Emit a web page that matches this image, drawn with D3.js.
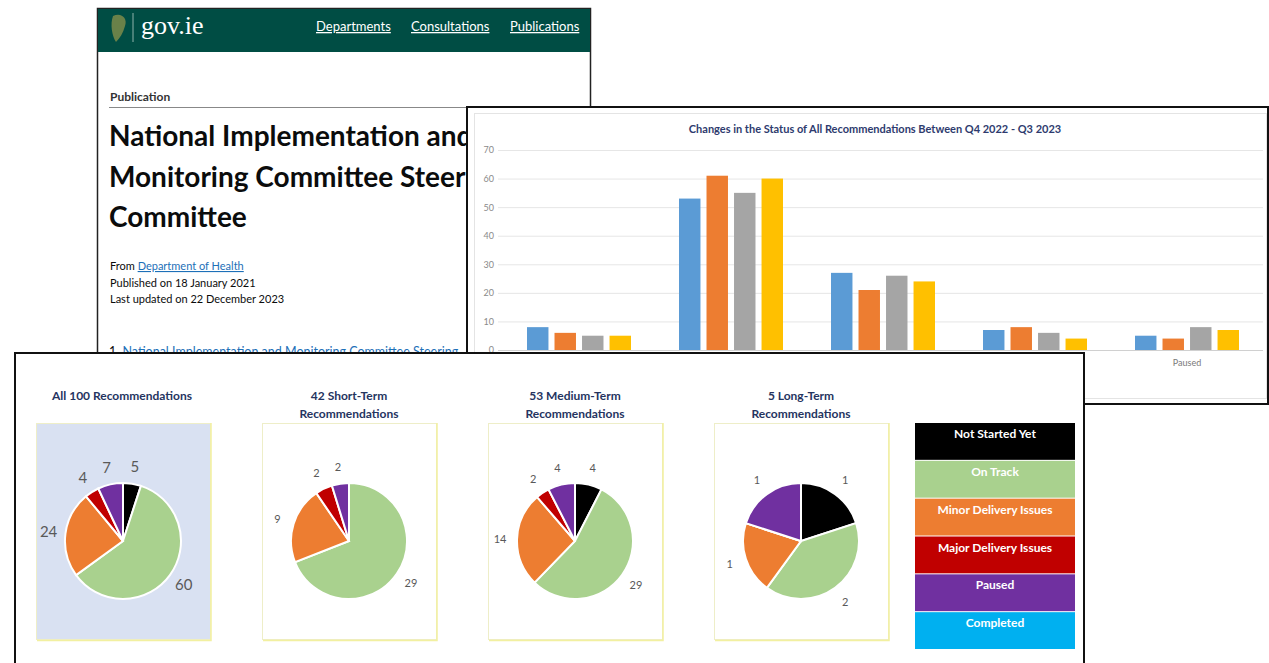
<!DOCTYPE html>
<html>
<head>
<meta charset="utf-8">
<script src="https://cdn.jsdelivr.net/npm/d3@7"></script>
<style>
  body { margin: 0; background: #fff; }
  svg { display: block; font-family: Lato, "Open Sans", sans-serif; }
</style>
</head>
<body>
<svg id="chart" width="1269" height="663"></svg>
<script>
// status categories shared by the bar chart and the pies
var statuses = ['Not Started Yet', 'On Track', 'Minor Delivery Issues', 'Major Delivery Issues', 'Paused'];
var legendLabels = ['Not Started Yet', 'On Track', 'Minor Delivery Issues', 'Major Delivery Issues', 'Paused', 'Completed'];
var statusColors = ['#000000', '#a9d18e', '#ed7d31', '#c00000', '#7030a0', '#00b0f0'];

// bar chart: one value per quarter for each status
var quarters = ['Q4 2022', 'Q1 2023', 'Q2 2023', 'Q3 2023'];
var quarterColors = ['#5b9bd5', '#ed7d31', '#a5a5a5', '#ffc000'];
var q4_2022 = [8, 53, 27, 7, 5];
var q1_2023 = [6, 61, 21, 8, 4];
var q2_2023 = [5, 55, 26, 6, 8];
var q3_2023 = [5, 60, 24, 4, 7];
var yTicks = [0, 10, 20, 30, 40, 50, 60, 70];

// pies: counts in status order
var pieTitles = [['All 100 Recommendations'], ['42 Short-Term', 'Recommendations'], ['53 Medium-Term', 'Recommendations'], ['5 Long-Term', 'Recommendations']];
var allRecs = [5, 60, 24, 4, 7];
var shortTerm = [0, 29, 9, 2, 2];
var mediumTerm = [4, 29, 14, 2, 4];
var longTerm = [1, 2, 1, 0, 1];

var svg = d3.select('#chart');

// clip the back page where the bar chart panel sits on top of it
var clip = svg.append('defs').append('clipPath').attr('id', 'pageClip');
clip.append('rect').attr('x', 0).attr('y', 0).attr('width', 1269).attr('height', 107);
clip.append('rect').attr('x', 0).attr('y', 107).attr('width', 467).attr('height', 246);

// ---------- gov.ie page (back layer) ----------
var page = svg.append('g').attr('clip-path', 'url(#pageClip)');
page.append('rect')
    .attr('x', 97.5).attr('y', 8.5).attr('width', 493).attr('height', 420)
    .attr('fill', '#fff').attr('stroke', '#222').attr('stroke-width', 1.5);
page.append('rect')
    .attr('x', 98).attr('y', 9).attr('width', 492).attr('height', 43)
    .attr('fill', '#004d44');
// harp logo (rough)
page.append('path')
    .attr('d', 'M113,16 C121,12 128,18 125,26 C123,33 120,38 116,42 C112,36 110,24 113,16 Z')
    .attr('fill', '#7d8b4a').attr('opacity', 0.85);
page.append('line')
    .attr('x1', 133).attr('x2', 133).attr('y1', 13).attr('y2', 42)
    .attr('stroke', '#8fb3ab').attr('stroke-width', 1);
page.append('text')
    .attr('x', 141).attr('y', 34)
    .style('font-family', '"Liberation Serif", "DejaVu Serif", serif')
    .style('font-size', '26px').attr('fill', '#fff')
    .text('gov.ie');
var navItems = [['Departments', 316], ['Consultations', 411], ['Publications', 510]];
page.selectAll('text.nav')
    .data(navItems)
    .enter().append('text')
    .attr('class', 'nav')
    .attr('x', function (d) { return d[1]; })
    .attr('y', 31)
    .style('font-size', '13px').style('text-decoration', 'underline')
    .attr('fill', '#fff')
    .text(function (d) { return d[0]; });
page.append('text')
    .attr('x', 110).attr('y', 101)
    .style('font-size', '12px').style('font-weight', 'bold')
    .attr('fill', '#333')
    .text('Publication');
page.append('line')
    .attr('x1', 109).attr('x2', 590).attr('y1', 107.5).attr('y2', 107.5)
    .attr('stroke', '#888');
var titleLines = ['National Implementation and', 'Monitoring Committee Steering', 'Committee'];
page.selectAll('text.ttl')
    .data(titleLines)
    .enter().append('text')
    .attr('class', 'ttl')
    .attr('x', 109)
    .attr('y', function (d, i) { return 146 + i * 40.5; })
    .style('font-size', '28px').style('font-weight', 'bold')
    .attr('fill', '#0b0c0c')
    .text(function (d) { return d; });
var from = page.append('text')
    .attr('x', 110).attr('y', 270)
    .style('font-size', '11px').attr('fill', '#0b0c0c');
from.append('tspan').text('From ');
from.append('tspan').attr('fill', '#1d70b8').style('text-decoration', 'underline').text('Department of Health');
page.append('text')
    .attr('x', 110).attr('y', 287)
    .style('font-size', '11px').attr('fill', '#0b0c0c')
    .text('Published on 18 January 2021');
page.append('text')
    .attr('x', 110).attr('y', 303)
    .style('font-size', '11px').attr('fill', '#0b0c0c')
    .text('Last updated on 22 December 2023');
var item = page.append('text')
    .attr('x', 109).attr('y', 356)
    .style('font-size', '12.5px');
item.append('tspan').attr('fill', '#0b0c0c').text('1. ');
item.append('tspan').attr('fill', '#1d70b8').style('text-decoration', 'underline')
    .text('National Implementation and Monitoring Committee Steering');

// ---------- bar chart (middle layer) ----------
var bars = svg.append('g');
bars.append('rect')
    .attr('x', 467).attr('y', 107).attr('width', 801).attr('height', 297)
    .attr('fill', '#fff').attr('stroke', '#111').attr('stroke-width', 2);
bars.append('rect')
    .attr('x', 474.5).attr('y', 113.5).attr('width', 792).attr('height', 285)
    .attr('fill', 'none').attr('stroke', '#e4e4e4');

var xScale = d3.scaleBand()
    .domain(statuses)
    .range([503, 1263]);
var xInner = d3.scaleBand()
    .domain(quarters)
    .range([24, 128])
    .paddingInner(0.22);
var yScale = d3.scaleLinear()
    .domain([0, 70])
    .range([350, 150]);

bars.append('text')
    .attr('x', 875).attr('y', 133)
    .style('text-anchor', 'middle')
    .style('font-size', '11px').style('font-weight', 'bold')
    .attr('fill', '#2e3b6e')
    .text('Changes in the Status of All Recommendations Between Q4 2022 - Q3 2023');

// gridlines
bars.selectAll('line.grid')
    .data(yTicks)
    .enter().append('line')
    .attr('class', 'grid')
    .attr('x1', 498).attr('x2', 1263)
    .attr('y1', function (d) { return yScale(d) + 0.5; })
    .attr('y2', function (d) { return yScale(d) + 0.5; })
    .attr('stroke', function (d) { return d === 0 ? '#d0d0d0' : '#e6e6e6'; });

// y axis labels
var yAxis = bars.append('g')
    .attr('transform', 'translate(496,0)')
    .call(d3.axisLeft(yScale).tickValues(yTicks).tickSize(0).tickPadding(2));
yAxis.select('.domain').remove();
yAxis.selectAll('text')
    .style('font-family', 'Lato, sans-serif')
    .style('font-size', '9px')
    .attr('fill', '#8a8a8a');

var seriesValues = [q4_2022, q1_2023, q2_2023, q3_2023];
var barData = [];
statuses.forEach(function (s, i) {
    quarters.forEach(function (q, j) {
        barData.push({ status: s, quarter: q, value: seriesValues[j][i], color: quarterColors[j] });
    });
});
bars.selectAll('rect.bar')
    .data(barData)
    .enter().append('rect')
    .attr('class', 'bar')
    .attr('x', function (d) { return xScale(d.status) + xInner(d.quarter); })
    .attr('y', function (d) { return yScale(d.value); })
    .attr('width', xInner.bandwidth())
    .attr('height', function (d) { return yScale(0) - yScale(d.value); })
    .attr('fill', function (d) { return d.color; });

// x axis labels (most are hidden behind the front panel)
var xAxis = bars.append('g')
    .attr('transform', 'translate(0,351)')
    .call(d3.axisBottom(xScale).tickSize(0).tickPadding(9));
xAxis.select('.domain').remove();
xAxis.selectAll('text')
    .style('font-family', 'Lato, sans-serif')
    .style('font-size', '9px')
    .attr('fill', '#7a7a7a');

// ---------- pies (front layer) ----------
var front = svg.append('g');
front.append('rect')
    .attr('x', 15).attr('y', 353).attr('width', 1069).attr('height', 330)
    .attr('fill', '#fff').attr('stroke', '#111').attr('stroke-width', 2);

var pieSets = [allRecs, shortTerm, mediumTerm, longTerm];
var boxX = [36, 262, 488, 714];
var boxW = 174;
var pie = d3.pie().sort(null).value(function (d) { return d; });

pieSets.forEach(function (values, k) {
    var g = front.append('g');
    var cx = boxX[k] + boxW / 2;
    var cy = 541;
    var r = 58;
    // title
    g.selectAll('text.ptitle')
        .data(pieTitles[k])
        .enter().append('text')
        .attr('class', 'ptitle')
        .attr('x', k === 0 ? 122 : cx)
        .attr('y', function (d, i) { return 400 + i * 18; })
        .style('text-anchor', 'middle')
        .style('font-size', '12px').style('font-weight', 'bold')
        .attr('fill', '#25345f')
        .text(function (d) { return d; });
    // box
    g.append('rect')
        .attr('x', boxX[k] + 0.5).attr('y', 423.5).attr('width', boxW).attr('height', 216)
        .attr('fill', k === 0 ? '#d9e1f2' : '#fff')
        .attr('stroke', '#eeeec8');
    g.append('path')
        .attr('d', 'M' + (boxX[k] + 1) + ',' + 640.5 + 'H' + (boxX[k] + boxW + 1) + 'V423')
        .attr('fill', 'none').attr('stroke', '#f2f0a0').attr('stroke-width', 1.5);

    var arc = d3.arc().innerRadius(0).outerRadius(r);
    var labelArc = d3.arc().innerRadius(r + 17).outerRadius(r + 17);
    var arcs = pie(values);
    g.selectAll('path.slice')
        .data(arcs)
        .enter().append('path')
        .attr('class', 'slice')
        .attr('transform', 'translate(' + cx + ',' + cy + ')')
        .attr('d', arc)
        .attr('fill', function (d, i) { return statusColors[i]; })
        .attr('stroke', '#fff')
        .attr('stroke-width', 2);
    g.selectAll('text.lbl')
        .data(arcs.filter(function (d) { return d.data > 0; }))
        .enter().append('text')
        .attr('class', 'lbl')
        .attr('transform', function (d) {
            var c = labelArc.centroid(d);
            return 'translate(' + (cx + c[0]) + ',' + (cy + c[1]) + ')';
        })
        .attr('dy', '0.35em')
        .style('text-anchor', 'middle')
        .style('font-size', k === 0 ? '15px' : '11px')
        .attr('fill', '#595959')
        .text(function (d) { return d.data; });
});

// legend
var legendScale = d3.scaleBand()
    .domain(legendLabels)
    .range([423, 650]);
var legend = front.append('g');
legend.selectAll('rect')
    .data(legendLabels)
    .enter().append('rect')
    .attr('x', 915)
    .attr('y', function (d) { return legendScale(d); })
    .attr('width', 160)
    .attr('height', legendScale.bandwidth() - 1)
    .attr('fill', function (d, i) { return statusColors[i]; });
legend.selectAll('text')
    .data(legendLabels)
    .enter().append('text')
    .attr('x', 995)
    .attr('y', function (d) { return legendScale(d) + 15; })
    .style('text-anchor', 'middle')
    .style('font-size', '12px').style('font-weight', 'bold')
    .attr('fill', '#fff')
    .text(function (d) { return d; });
</script>
</body>
</html>
